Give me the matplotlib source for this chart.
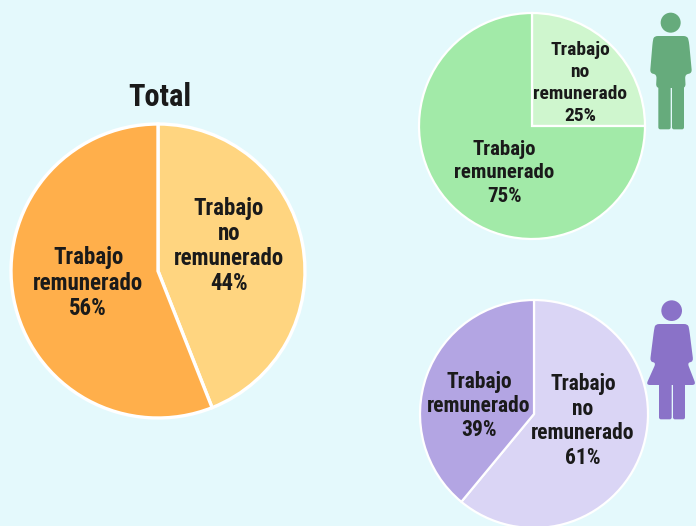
import matplotlib
matplotlib.use("Agg")
import matplotlib.pyplot as plt
from matplotlib.patches import Circle, FancyBboxPatch, PathPatch
from matplotlib.path import Path
import numpy as np

W, H = 696, 526
BG = "#E4F9FC"
FONT = ["Roboto Condensed", "Liberation Sans", "DejaVu Sans"]

# hodnoty kolacu
total_values = [44, 56]
green_values = [25, 75]
purple_values = [61, 39]

total_colors = ["#FFD580", "#FFAF4B"]
green_colors = ["#CFF6CE", "#A2EAA8"]
purple_colors = ["#DAD5F5", "#B3A5E3"]

label_paid = "Trabajo\nremunerado\n{}%"
label_unpaid = "Trabajo\nno\nremunerado\n{}%"


def draw_pie(fig, values, colors, cx, cy, r, lw):
    ax = fig.add_axes([(cx - r) / W, 1 - (cy + r) / H, 2 * r / W, 2 * r / H])
    ax.pie(
        values,
        colors=colors,
        startangle=90,
        counterclock=False,
        radius=1,
        wedgeprops={"edgecolor": "white", "linewidth": lw},
    )
    ax.set_xlim(-1, 1)
    ax.set_ylim(-1, 1)
    for p in ax.patches:
        p.set_clip_on(False)
    ax.axis("off")


def rounded_poly(points, rad=4.0):
    # body s pevne zaoblenymi rohy
    verts, codes = [], []
    n = len(points)
    for i, p in enumerate(points):
        p = np.array(p)
        a = np.array(points[i - 1]) - p
        b = np.array(points[(i + 1) % n]) - p
        a_len = np.linalg.norm(a)
        b_len = np.linalg.norm(b)
        a_pt = p + a / a_len * min(rad, a_len / 2)
        b_pt = p + b / b_len * min(rad, b_len / 2)
        verts += [tuple(a_pt), tuple(p), tuple(b_pt)]
        codes += [Path.MOVETO if i == 0 else Path.LINETO, Path.CURVE3, Path.CURVE3]
    verts.append(verts[0])
    codes.append(Path.CLOSEPOLY)
    return Path(verts, codes)


def draw_person(ov, x0, y0, color, head, body, legs):
    ov.add_patch(Circle((x0 + head[0] / 3, y0 + head[1] / 3), head[2] / 3, fc=color, ec="none"))
    pts = [(x0 + x / 3, y0 + y / 3) for x, y in body]
    ov.add_patch(PathPatch(rounded_poly(pts), fc=color, ec="none"))
    for lx0, lx1, ly0, ly1 in legs:
        ov.add_patch(
            FancyBboxPatch(
                (x0 + lx0 / 3 + 2, y0 + ly0 / 3),
                (lx1 - lx0) / 3 - 4,
                (ly1 - ly0) / 3 - 2,
                boxstyle="round,pad=2",
                fc=color,
                ec="none",
            )
        )


def main():
    fig = plt.figure(figsize=(W / 100, H / 100), dpi=100, facecolor=BG)

    draw_pie(fig, total_values, total_colors, 158, 271, 147, 2.4)
    draw_pie(fig, green_values, green_colors, 532, 126, 113, 1.6)
    draw_pie(fig, purple_values, purple_colors, 534, 414, 114, 1.6)

    ov = fig.add_axes([0, 0, 1, 1])
    ov.set_xlim(0, W)
    ov.set_ylim(H, 0)
    ov.axis("off")

    kw = dict(ha="center", va="center", family=FONT, weight="bold", color="#1A1A1A", multialignment="center")
    ov.text(160, 97, "Total", fontsize=22, **kw)
    ov.text(229, 246, label_unpaid.format(total_values[0]), fontsize=16.5, linespacing=1.12, **kw)
    ov.text(88, 283, label_paid.format(total_values[1]), fontsize=16.5, linespacing=1.12, **kw)
    ov.text(580, 83, label_unpaid.format(green_values[0]), fontsize=14, linespacing=1.29, **kw)
    ov.text(504, 173, label_paid.format(green_values[1]), fontsize=15, linespacing=1.33, **kw)
    ov.text(583, 421, label_unpaid.format(purple_values[0]), fontsize=15.5, linespacing=1.14, **kw)
    ov.text(479, 406, label_paid.format(purple_values[1]), fontsize=15.5, linespacing=1.14, **kw)

    draw_person(
        ov, 630, 0, "#66AB7C", (122, 68, 30),
        [(68, 125), (72, 108), (172, 108), (177, 125), (186, 220), (165, 223),
         (167, 264), (78, 264), (80, 223), (60, 220)],
        [(85, 122, 255, 388), (126, 162, 255, 388)],
    )
    draw_person(
        ov, 630, 290, "#8A72C8", (125, 62, 31),
        [(72, 120), (76, 102), (174, 102), (178, 120), (190, 215), (172, 218),
         (198, 285), (48, 285), (78, 218), (60, 215)],
        [(87, 125, 275, 388), (129, 165, 275, 388)],
    )

    fig.savefig("out.png", dpi=100, facecolor=BG)


if __name__ == "__main__":
    main()
